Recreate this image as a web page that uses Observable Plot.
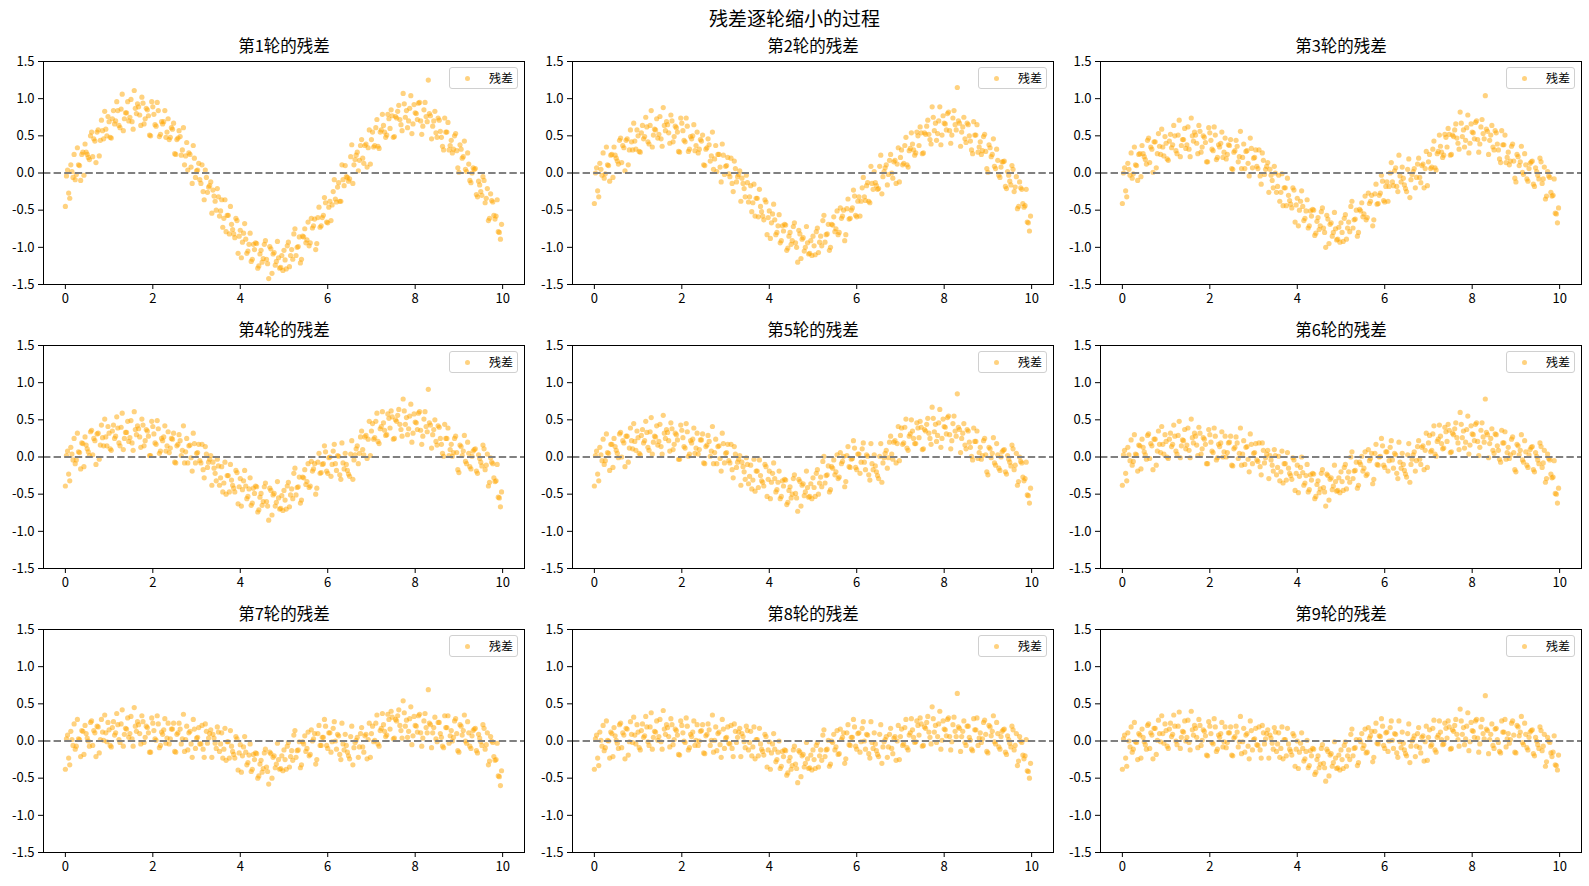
<!DOCTYPE html>
<html>
<head>
<meta charset="utf-8">
<script src="https://cdn.jsdelivr.net/npm/d3@7"></script>
<script src="https://cdn.jsdelivr.net/npm/@observablehq/plot@0.6"></script>
<style>
  html, body { margin: 0; padding: 0; background: #fff; }
  #root { position: relative; width: 1589px; height: 886px; overflow: hidden; font-family: "Noto Sans CJK SC", "Noto Sans", sans-serif; color: #000; }
  #suptitle { position: absolute; left: 0; top: 6px; width: 1589px; height: 23px; line-height: 23px; text-align: center; font-size: 19px; }
  .panel { position: absolute; }
  .legend { position: absolute; width: 69px; height: 22px; box-sizing: border-box; border: 1px solid #d0d0d0; border-radius: 3px; background: rgba(255,255,255,0.8); font-size: 12px; }
  .legend .dot { position: absolute; left: 14.5px; top: 7.8px; width: 5.2px; height: 5.2px; border-radius: 50%; background: rgba(255,165,0,0.5); }
  .legend .lab { position: absolute; left: 39px; top: 0; line-height: 20px; }
</style>
</head>
<body>
<div id="root"><div id="suptitle"></div></div>
<script>
const suptitle = "残差逐轮缩小的过程";
const panelTitles = ["第1轮的残差","第2轮的残差","第3轮的残差","第4轮的残差","第5轮的残差","第6轮的残差","第7轮的残差","第8轮的残差","第9轮的残差"];
const legendLabel = "残差";
const xTicks = [0, 2, 4, 6, 8, 10];
const yTicks = [-1.5, -1.0, -0.5, 0.0, 0.5, 1.0, 1.5];

// sample x positions (two interleaved sets)
const xsA = [0,0.05,0.1,0.15,0.2,0.25,0.3,0.35,0.4,0.45,0.5,0.55,0.6,0.65,0.7,0.75,0.8,0.85,0.9,0.95,
1,1.05,1.1,1.15,1.2,1.25,1.3,1.35,1.4,1.45,1.5,1.55,1.6,1.65,1.7,1.75,1.8,1.85,1.9,1.95,
2,2.05,2.1,2.15,2.2,2.25,2.3,2.35,2.4,2.45,2.5,2.55,2.6,2.65,2.7,2.75,2.8,2.85,2.9,2.95,
3,3.05,3.1,3.15,3.2,3.25,3.3,3.35,3.4,3.45,3.5,3.55,3.6,3.65,3.7,3.75,3.8,3.85,3.9,3.95,
4,4.05,4.1,4.15,4.2,4.25,4.3,4.35,4.4,4.45,4.5,4.55,4.6,4.65,4.7,4.75,4.8,4.85,4.9,4.95,
5,5.05,5.1,5.15,5.2,5.25,5.3,5.35,5.4,5.45,5.5,5.55,5.6,5.65,5.7,5.75,5.8,5.85,5.9,5.95,
6,6.05,6.1,6.15,6.2,6.25,6.3,6.35,6.4,6.45,6.5,6.55,6.6,6.65,6.7,6.75,6.8,6.85,6.9,6.95,
7,7.05,7.1,7.15,7.2,7.25,7.3,7.35,7.4,7.45,7.5,7.55,7.6,7.65,7.7,7.75,7.8,7.85,7.9,7.95,
8,8.05,8.1,8.15,8.2,8.25,8.3,8.35,8.4,8.45,8.5,8.55,8.6,8.65,8.7,8.75,8.8,8.85,8.9,8.95,
9,9.05,9.1,9.15,9.2,9.25,9.3,9.35,9.4,9.45,9.5,9.55,9.6,9.65,9.7,9.75,9.8,9.85,9.9,9.95];
const xsB = [0.025,0.075,0.125,0.175,0.225,0.275,0.325,0.375,0.425,0.475,0.525,0.575,0.625,0.675,0.725,0.775,0.825,0.875,0.925,0.975,
1.025,1.075,1.125,1.175,1.225,1.275,1.325,1.375,1.425,1.475,1.525,1.575,1.625,1.675,1.725,1.775,1.825,1.875,1.925,1.975,
2.025,2.075,2.125,2.175,2.225,2.275,2.325,2.375,2.425,2.475,2.525,2.575,2.625,2.675,2.725,2.775,2.825,2.875,2.925,2.975,
3.025,3.075,3.125,3.175,3.225,3.275,3.325,3.375,3.425,3.475,3.525,3.575,3.625,3.675,3.725,3.775,3.825,3.875,3.925,3.975,
4.025,4.075,4.125,4.175,4.225,4.275,4.325,4.375,4.425,4.475,4.525,4.575,4.625,4.675,4.725,4.775,4.825,4.875,4.925,4.975,
5.025,5.075,5.125,5.175,5.225,5.275,5.325,5.375,5.425,5.475,5.525,5.575,5.625,5.675,5.725,5.775,5.825,5.875,5.925,5.975,
6.025,6.075,6.125,6.175,6.225,6.275,6.325,6.375,6.425,6.475,6.525,6.575,6.625,6.675,6.725,6.775,6.825,6.875,6.925,6.975,
7.025,7.075,7.125,7.175,7.225,7.275,7.325,7.375,7.425,7.475,7.525,7.575,7.625,7.675,7.725,7.775,7.825,7.875,7.925,7.975,
8.025,8.075,8.125,8.175,8.225,8.275,8.325,8.375,8.425,8.475,8.525,8.575,8.625,8.675,8.725,8.775,8.825,8.875,8.925,8.975,
9.025,9.075,9.125,9.175,9.225,9.275,9.325,9.375,9.425,9.475,9.525,9.575,9.625,9.675,9.725,9.775,9.825,9.875,9.925,9.975];

const round1 = [-0.45,0.04,-0.34,0.02,0.25,-0.02,0.11,-0.10,0.28,0.39,0.25,0.18,0.55,0.46,0.14,0.58,0.44,0.57,0.83,0.50,
0.69,0.47,0.84,0.70,0.84,0.61,1.06,0.73,0.81,0.70,0.99,0.59,0.87,0.93,0.78,1.02,0.66,0.87,0.77,0.50,
0.89,0.65,0.95,0.49,0.69,0.69,0.48,0.73,0.48,0.59,0.26,0.45,0.57,0.24,0.61,0.23,0.04,0.25,-0.14,0.20,
0.03,0.13,-0.14,-0.25,0.04,-0.26,-0.17,-0.54,-0.31,-0.50,-0.32,-0.51,-0.73,-0.36,-0.57,-0.82,-0.69,-0.82,-0.61,-1.08,
-0.77,-0.93,-0.68,-1.08,-0.96,-1.19,-0.96,-0.94,-1.28,-1.09,-1.20,-0.96,-1.16,-1.42,-1.02,-1.09,-1.24,-0.92,-1.28,-1.11,
-1.04,-1.29,-0.93,-1.11,-1.16,-0.75,-1.00,-0.86,-1.16,-0.86,-0.94,-0.66,-0.94,-0.74,-0.62,-0.95,-0.46,-0.71,-0.57,-0.40,
-0.67,-0.38,-0.43,-0.09,-0.39,-0.13,-0.38,-0.09,0.10,-0.06,-0.08,0.38,0.11,0.24,0.03,0.37,0.20,0.37,0.08,0.58,
0.45,0.35,0.61,0.36,0.55,0.79,0.55,0.51,0.73,0.85,0.48,0.76,0.83,0.72,0.57,0.93,0.84,0.70,1.04,0.66,
0.81,0.72,0.95,0.52,0.85,0.76,1.25,0.77,0.63,0.83,0.48,0.71,0.48,0.31,0.55,0.68,0.37,0.27,0.50,0.30,
0.01,0.32,0.22,0.05,0.27,-0.10,0.00,0.05,-0.29,-0.11,-0.25,-0.05,-0.40,-0.21,-0.61,-0.37,-0.57,-0.58,-0.79,-0.89];
const round1b = [-0.04,-0.27,0.11,-0.06,-0.09,0.34,0.10,0.25,-0.03,0.28,0.21,0.50,0.22,0.43,0.55,0.23,0.71,0.46,0.59,0.76,
0.48,0.73,0.66,0.96,0.64,0.86,0.57,0.81,0.96,0.75,0.69,1.11,0.80,0.89,0.64,0.94,0.73,0.85,0.51,0.96,
0.79,0.63,0.84,0.52,0.66,0.84,0.55,0.45,0.61,0.67,0.25,0.47,0.49,0.31,0.11,0.41,0.27,0.08,0.37,-0.06,
0.04,-0.09,0.11,-0.36,-0.06,-0.19,-0.12,-0.23,-0.38,-0.21,-0.58,-0.36,-0.61,-0.79,-0.57,-0.45,-0.76,-0.87,-0.64,-0.85,
-1.14,-0.81,-0.89,-1.05,-0.81,-1.16,-1.03,-0.95,-1.25,-1.04,-1.15,-0.91,-1.22,-0.99,-1.35,-1.07,-1.19,-1.14,-1.27,-1.31,
-1.17,-0.98,-1.26,-1.03,-0.82,-1.11,-0.99,-1.21,-0.85,-0.75,-0.90,-0.98,-0.61,-0.71,-1.03,-0.60,-0.73,-0.60,-0.33,-0.66,
-0.46,-0.64,-0.25,-0.35,-0.19,-0.38,0.11,-0.17,-0.05,-0.11,0.22,-0.14,0.18,0.28,0.17,0.45,0.13,0.39,0.34,0.12,
0.55,0.37,0.72,0.33,0.58,0.64,0.48,0.79,0.60,0.77,0.49,0.74,0.91,0.65,1.07,0.75,0.61,0.87,0.53,0.92,
0.80,0.94,0.70,0.63,0.95,0.69,0.80,0.46,0.70,0.54,0.74,0.56,0.36,0.74,0.55,0.31,0.44,0.32,0.53,0.07,
0.38,0.20,0.43,0.02,0.12,-0.13,0.07,0.06,-0.32,-0.16,-0.30,-0.10,-0.34,-0.64,-0.28,-0.39,-0.62,-0.36,-0.80,-0.69];

const round2 = [-0.41,0.07,-0.32,0.05,0.27,-0.01,0.11,-0.11,0.25,0.35,0.20,0.12,0.47,0.37,0.03,0.46,0.31,0.42,0.67,0.32,
0.50,0.28,0.64,0.49,0.62,0.39,0.84,0.51,0.58,0.47,0.76,0.36,0.64,0.69,0.54,0.78,0.42,0.63,0.55,0.28,
0.67,0.44,0.74,0.29,0.49,0.50,0.30,0.55,0.32,0.43,0.11,0.32,0.46,0.16,0.55,0.19,0.02,0.25,-0.12,0.24,
0.09,0.21,-0.05,-0.14,0.16,-0.12,-0.02,-0.38,-0.14,-0.32,-0.13,-0.32,-0.52,-0.15,-0.34,-0.59,-0.45,-0.58,-0.36,-0.83,
-0.51,-0.67,-0.42,-0.83,-0.71,-0.94,-0.71,-0.69,-1.04,-0.85,-0.96,-0.72,-0.94,-1.20,-0.82,-0.89,-1.05,-0.72,-1.09,-0.91,
-0.85,-1.10,-0.74,-0.93,-0.98,-0.57,-0.83,-0.69,-1.00,-0.70,-0.79,-0.51,-0.80,-0.61,-0.50,-0.83,-0.35,-0.61,-0.47,-0.31,
-0.59,-0.32,-0.38,-0.06,-0.37,-0.13,-0.40,-0.14,0.02,-0.17,-0.21,0.24,-0.05,0.07,-0.16,0.17,0.00,0.15,-0.14,0.34,
0.21,0.11,0.37,0.11,0.30,0.54,0.31,0.27,0.50,0.62,0.26,0.54,0.63,0.52,0.39,0.75,0.67,0.53,0.89,0.51,
0.67,0.58,0.82,0.40,0.74,0.65,1.15,0.67,0.55,0.75,0.41,0.65,0.43,0.26,0.51,0.65,0.35,0.25,0.49,0.29,
0.01,0.34,0.25,0.09,0.32,-0.03,0.08,0.15,-0.18,0.02,-0.11,0.10,-0.25,-0.05,-0.45,-0.20,-0.41,-0.44,-0.66,-0.78];
const round2b = [0.00,-0.24,0.13,-0.03,-0.07,0.35,0.10,0.24,-0.06,0.24,0.16,0.44,0.14,0.34,0.44,0.11,0.58,0.31,0.43,0.58,
0.29,0.54,0.46,0.75,0.42,0.64,0.35,0.59,0.73,0.52,0.46,0.88,0.57,0.65,0.40,0.70,0.49,0.61,0.29,0.74,
0.57,0.42,0.63,0.32,0.46,0.65,0.37,0.27,0.45,0.51,0.10,0.34,0.38,0.23,0.05,0.37,0.25,0.08,0.39,-0.02,
0.10,-0.01,0.20,-0.25,0.06,-0.05,0.03,-0.07,-0.21,-0.03,-0.39,-0.17,-0.40,-0.58,-0.34,-0.22,-0.52,-0.63,-0.39,-0.60,
-0.88,-0.55,-0.63,-0.80,-0.56,-0.91,-0.78,-0.70,-1.01,-0.80,-0.91,-0.67,-1.00,-0.77,-1.15,-0.87,-1.00,-0.94,-1.08,-1.11,
-0.98,-0.79,-1.07,-0.85,-0.64,-0.93,-0.82,-1.04,-0.69,-0.59,-0.75,-0.83,-0.47,-0.58,-0.91,-0.48,-0.62,-0.50,-0.23,-0.57,
-0.38,-0.58,-0.20,-0.32,-0.17,-0.38,0.09,-0.22,-0.13,-0.22,0.09,-0.28,0.02,0.11,-0.02,0.25,-0.07,0.17,0.12,-0.12,
0.31,0.13,0.48,0.08,0.33,0.39,0.24,0.55,0.37,0.54,0.27,0.52,0.71,0.45,0.89,0.57,0.44,0.70,0.38,0.77,
0.66,0.80,0.57,0.51,0.84,0.58,0.70,0.36,0.62,0.46,0.67,0.50,0.31,0.69,0.51,0.28,0.42,0.30,0.52,0.06,
0.38,0.22,0.46,0.06,0.17,-0.06,0.15,0.16,-0.21,-0.03,-0.16,0.05,-0.19,-0.48,-0.12,-0.22,-0.46,-0.22,-0.67,-0.58];

const round3 = [-0.41,0.07,-0.32,0.05,0.27,-0.01,0.11,-0.10,0.26,0.37,0.22,0.12,0.47,0.35,0.01,0.42,0.26,0.36,0.59,0.23,
0.40,0.17,0.52,0.38,0.50,0.26,0.71,0.37,0.45,0.33,0.62,0.22,0.50,0.55,0.40,0.64,0.28,0.50,0.41,0.15,
0.54,0.32,0.62,0.18,0.38,0.40,0.21,0.47,0.25,0.37,0.06,0.28,0.44,0.15,0.56,0.21,0.06,0.30,-0.04,0.33,
0.20,0.31,0.06,-0.04,0.27,-0.02,0.09,-0.26,-0.03,-0.20,0.00,-0.18,-0.38,-0.01,-0.20,-0.44,-0.30,-0.42,-0.20,-0.66,
-0.34,-0.50,-0.24,-0.64,-0.51,-0.74,-0.51,-0.49,-0.84,-0.65,-0.76,-0.52,-0.74,-1.00,-0.62,-0.69,-0.85,-0.53,-0.90,-0.73,
-0.67,-0.92,-0.56,-0.74,-0.79,-0.38,-0.63,-0.50,-0.80,-0.51,-0.59,-0.31,-0.60,-0.41,-0.30,-0.63,-0.15,-0.41,-0.27,-0.11,
-0.39,-0.12,-0.18,0.14,-0.17,0.07,-0.25,-0.04,0.08,-0.16,-0.25,0.19,-0.09,0.02,-0.20,0.12,-0.06,0.10,-0.20,0.29,
0.15,0.06,0.32,0.07,0.26,0.51,0.28,0.24,0.48,0.60,0.24,0.51,0.58,0.47,0.32,0.67,0.58,0.44,0.78,0.40,
0.55,0.46,0.70,0.28,0.62,0.53,1.04,0.56,0.44,0.64,0.31,0.54,0.31,0.14,0.38,0.51,0.21,0.11,0.36,0.16,
-0.12,0.22,0.15,0.01,0.26,-0.08,0.06,0.15,-0.15,0.07,-0.03,0.20,-0.14,0.08,-0.31,-0.04,-0.26,-0.30,-0.54,-0.67];
const round3b = [0.00,-0.24,0.13,-0.03,-0.07,0.35,0.10,0.25,-0.05,0.26,0.18,0.44,0.14,0.32,0.42,0.07,0.53,0.25,0.35,0.49,
0.19,0.43,0.34,0.64,0.30,0.51,0.22,0.45,0.60,0.38,0.32,0.74,0.43,0.51,0.26,0.56,0.35,0.48,0.15,0.61,
0.44,0.30,0.51,0.21,0.35,0.55,0.28,0.19,0.38,0.45,0.05,0.30,0.36,0.22,0.06,0.39,0.29,0.13,0.47,0.07,
0.21,0.09,0.31,-0.15,0.17,0.05,0.14,0.05,-0.10,0.09,-0.26,-0.03,-0.26,-0.44,-0.20,-0.07,-0.37,-0.47,-0.23,-0.43,
-0.71,-0.38,-0.45,-0.61,-0.36,-0.71,-0.58,-0.50,-0.81,-0.60,-0.71,-0.47,-0.80,-0.57,-0.95,-0.67,-0.80,-0.75,-0.89,-0.93,
-0.80,-0.61,-0.89,-0.66,-0.45,-0.74,-0.62,-0.85,-0.49,-0.40,-0.55,-0.63,-0.27,-0.38,-0.71,-0.28,-0.42,-0.30,-0.03,-0.37,
-0.18,-0.38,0.00,-0.12,0.03,-0.18,0.24,-0.12,-0.07,-0.21,0.05,-0.33,-0.02,0.06,-0.06,0.20,-0.13,0.12,0.06,-0.17,
0.25,0.08,0.43,0.04,0.29,0.36,0.21,0.52,0.35,0.52,0.25,0.49,0.66,0.40,0.82,0.49,0.35,0.61,0.27,0.66,
0.54,0.68,0.45,0.39,0.72,0.46,0.59,0.25,0.51,0.35,0.57,0.39,0.19,0.57,0.38,0.14,0.28,0.16,0.39,-0.07,
0.25,0.10,0.36,-0.02,0.11,-0.11,0.13,0.16,-0.18,0.02,-0.08,0.15,-0.08,-0.35,0.02,-0.06,-0.31,-0.08,-0.55,-0.47];

const round4 = [-0.39,0.08,-0.32,0.04,0.25,-0.04,0.07,-0.16,0.18,0.27,0.11,0.02,0.36,0.25,-0.10,0.32,0.16,0.26,0.51,0.15,
0.32,0.09,0.43,0.28,0.39,0.15,0.59,0.25,0.33,0.21,0.49,0.09,0.37,0.42,0.27,0.51,0.15,0.37,0.28,0.02,
0.41,0.19,0.49,0.05,0.25,0.27,0.08,0.34,0.12,0.24,-0.07,0.15,0.30,0.02,0.42,0.07,-0.08,0.16,-0.19,0.18,
0.05,0.17,-0.08,-0.17,0.14,-0.14,-0.03,-0.38,-0.15,-0.32,-0.12,-0.28,-0.47,-0.07,-0.25,-0.47,-0.31,-0.42,-0.18,-0.63,
-0.29,-0.44,-0.18,-0.56,-0.43,-0.65,-0.42,-0.39,-0.74,-0.54,-0.65,-0.40,-0.60,-0.85,-0.45,-0.51,-0.66,-0.33,-0.70,-0.52,
-0.45,-0.70,-0.34,-0.51,-0.56,-0.15,-0.41,-0.27,-0.58,-0.28,-0.37,-0.09,-0.39,-0.19,-0.09,-0.42,0.05,-0.21,-0.09,0.07,
-0.22,0.00,-0.10,0.17,-0.18,0.01,-0.30,-0.08,0.05,-0.18,-0.26,0.22,-0.04,0.11,-0.09,0.27,0.10,0.27,-0.02,0.48,
0.35,0.24,0.48,0.21,0.38,0.61,0.36,0.30,0.52,0.62,0.24,0.50,0.56,0.44,0.28,0.62,0.53,0.38,0.71,0.32,
0.47,0.37,0.61,0.17,0.51,0.41,0.91,0.43,0.30,0.50,0.16,0.40,0.17,0.01,0.25,0.39,0.10,0.01,0.25,0.06,
-0.21,0.14,0.08,-0.06,0.20,-0.13,0.01,0.10,-0.19,0.03,-0.07,0.16,-0.17,0.04,-0.34,-0.07,-0.28,-0.32,-0.54,-0.67];
const round4b = [0.02,-0.23,0.13,-0.04,-0.09,0.32,0.06,0.19,-0.13,0.16,0.07,0.34,0.03,0.22,0.31,-0.03,0.43,0.15,0.27,0.41,
0.11,0.35,0.25,0.54,0.19,0.40,0.10,0.33,0.48,0.26,0.19,0.61,0.30,0.38,0.13,0.43,0.22,0.35,0.02,0.48,
0.31,0.17,0.38,0.08,0.22,0.42,0.15,0.06,0.25,0.32,-0.08,0.17,0.22,0.09,-0.08,0.25,0.15,-0.01,0.32,-0.08,
0.06,-0.05,0.17,-0.28,0.04,-0.07,0.02,-0.07,-0.22,-0.03,-0.38,-0.13,-0.35,-0.50,-0.25,-0.10,-0.38,-0.47,-0.21,-0.40,
-0.66,-0.32,-0.39,-0.53,-0.28,-0.62,-0.49,-0.40,-0.71,-0.49,-0.60,-0.35,-0.66,-0.42,-0.78,-0.49,-0.61,-0.55,-0.69,-0.72,
-0.58,-0.39,-0.67,-0.43,-0.22,-0.51,-0.40,-0.62,-0.27,-0.17,-0.33,-0.41,-0.06,-0.16,-0.50,-0.07,-0.22,-0.10,0.15,-0.19,
-0.01,-0.26,0.08,-0.09,0.02,-0.24,0.19,-0.16,-0.10,-0.23,0.04,-0.30,0.03,0.15,0.05,0.35,0.03,0.29,0.24,0.02,
0.45,0.26,0.59,0.18,0.41,0.46,0.29,0.58,0.39,0.54,0.25,0.48,0.64,0.37,0.78,0.44,0.30,0.55,0.20,0.58,
0.46,0.59,0.36,0.28,0.61,0.34,0.46,0.12,0.37,0.21,0.42,0.25,0.05,0.44,0.25,0.02,0.17,0.06,0.28,-0.17,
0.16,0.02,0.29,-0.09,0.05,-0.16,0.08,0.11,-0.22,-0.02,-0.12,0.11,-0.11,-0.39,-0.01,-0.09,-0.33,-0.10,-0.55,-0.47];

const round5 = [-0.39,0.08,-0.32,0.03,0.24,-0.05,0.06,-0.18,0.17,0.25,0.09,-0.01,0.33,0.22,-0.13,0.28,0.12,0.22,0.45,0.09,
0.26,0.03,0.37,0.22,0.33,0.09,0.53,0.20,0.27,0.16,0.44,0.04,0.32,0.37,0.22,0.46,0.10,0.32,0.23,-0.03,
0.36,0.14,0.45,0.01,0.22,0.24,0.05,0.32,0.10,0.23,-0.08,0.14,0.29,0.01,0.41,0.06,-0.09,0.15,-0.19,0.18,
0.05,0.17,-0.08,-0.17,0.14,-0.14,-0.03,-0.38,-0.13,-0.30,-0.10,-0.26,-0.43,-0.03,-0.19,-0.41,-0.25,-0.34,-0.10,-0.53,
-0.19,-0.34,-0.08,-0.47,-0.34,-0.56,-0.32,-0.30,-0.64,-0.45,-0.55,-0.29,-0.49,-0.73,-0.33,-0.38,-0.52,-0.19,-0.54,-0.36,
-0.28,-0.53,-0.17,-0.35,-0.40,0.01,-0.25,-0.12,-0.44,-0.15,-0.24,0.03,-0.27,-0.09,0.01,-0.33,0.14,-0.14,-0.02,0.12,
-0.17,0.04,-0.07,0.19,-0.17,0.01,-0.31,-0.09,0.03,-0.20,-0.29,0.18,-0.08,0.05,-0.15,0.20,0.04,0.20,-0.08,0.41,
0.29,0.17,0.40,0.12,0.28,0.50,0.25,0.18,0.39,0.48,0.10,0.37,0.44,0.32,0.17,0.52,0.44,0.29,0.64,0.25,
0.41,0.31,0.55,0.11,0.45,0.35,0.85,0.37,0.25,0.45,0.11,0.35,0.13,-0.04,0.21,0.35,0.06,-0.03,0.22,0.03,
-0.24,0.11,0.05,-0.08,0.18,-0.15,0.00,0.09,-0.20,0.02,-0.07,0.16,-0.17,0.05,-0.33,-0.06,-0.27,-0.29,-0.51,-0.62];
const round5b = [0.02,-0.23,0.13,-0.05,-0.10,0.31,0.05,0.17,-0.14,0.14,0.05,0.31,0.00,0.19,0.28,-0.07,0.39,0.11,0.21,0.35,
0.05,0.29,0.19,0.48,0.13,0.34,0.04,0.28,0.42,0.21,0.14,0.56,0.25,0.33,0.08,0.38,0.17,0.30,-0.03,0.43,
0.26,0.12,0.34,0.04,0.19,0.39,0.12,0.04,0.23,0.31,-0.09,0.16,0.21,0.08,-0.09,0.24,0.14,-0.02,0.32,-0.08,
0.06,-0.05,0.17,-0.28,0.04,-0.07,0.02,-0.07,-0.20,-0.01,-0.36,-0.11,-0.31,-0.46,-0.19,-0.04,-0.32,-0.39,-0.13,-0.30,
-0.56,-0.22,-0.29,-0.44,-0.19,-0.53,-0.39,-0.31,-0.61,-0.40,-0.50,-0.24,-0.55,-0.30,-0.66,-0.36,-0.47,-0.41,-0.53,-0.56,
-0.41,-0.22,-0.50,-0.27,-0.06,-0.35,-0.24,-0.47,-0.13,-0.04,-0.20,-0.29,0.06,-0.06,-0.40,0.02,-0.13,-0.03,0.22,-0.14,
0.04,-0.22,0.11,-0.07,0.03,-0.24,0.18,-0.17,-0.12,-0.25,0.01,-0.34,-0.01,0.09,-0.01,0.28,-0.03,0.22,0.18,-0.05,
0.39,0.19,0.51,0.09,0.31,0.35,0.18,0.46,0.26,0.40,0.11,0.35,0.52,0.25,0.67,0.34,0.21,0.46,0.13,0.51,
0.40,0.53,0.30,0.22,0.55,0.28,0.40,0.06,0.32,0.16,0.37,0.20,0.01,0.39,0.21,-0.02,0.13,0.02,0.25,-0.20,
0.13,-0.01,0.26,-0.11,0.03,-0.18,0.07,0.10,-0.23,-0.03,-0.12,0.11,-0.11,-0.38,0.00,-0.08,-0.32,-0.07,-0.52,-0.42];

const round6 = [-0.38,0.09,-0.32,0.03,0.23,-0.06,0.04,-0.19,0.15,0.24,0.07,-0.03,0.31,0.18,-0.17,0.24,0.08,0.17,0.41,0.04,
0.21,-0.02,0.32,0.17,0.28,0.04,0.48,0.15,0.22,0.11,0.39,-0.01,0.26,0.32,0.16,0.40,0.04,0.26,0.17,-0.09,
0.30,0.08,0.39,-0.04,0.17,0.19,0.00,0.28,0.06,0.20,-0.11,0.11,0.27,-0.02,0.39,0.04,-0.10,0.14,-0.20,0.17,
0.05,0.18,-0.06,-0.13,0.19,-0.08,0.04,-0.29,-0.04,-0.19,0.02,-0.14,-0.32,0.08,-0.09,-0.31,-0.15,-0.25,-0.01,-0.45,
-0.11,-0.26,0.00,-0.38,-0.25,-0.47,-0.24,-0.22,-0.56,-0.37,-0.48,-0.22,-0.41,-0.66,-0.25,-0.30,-0.44,-0.11,-0.46,-0.28,
-0.20,-0.45,-0.10,-0.28,-0.34,0.07,-0.19,-0.07,-0.38,-0.10,-0.19,0.07,-0.23,-0.05,0.05,-0.30,0.17,-0.11,0.01,0.15,
-0.14,0.07,-0.05,0.22,-0.15,0.03,-0.29,-0.07,0.05,-0.18,-0.27,0.18,-0.10,0.03,-0.19,0.14,-0.03,0.13,-0.17,0.32,
0.19,0.07,0.31,0.04,0.21,0.43,0.18,0.12,0.34,0.44,0.06,0.32,0.38,0.26,0.10,0.44,0.35,0.20,0.55,0.16,
0.31,0.22,0.46,0.02,0.36,0.27,0.78,0.30,0.18,0.38,0.05,0.30,0.09,-0.07,0.19,0.34,0.06,-0.02,0.24,0.06,
-0.20,0.15,0.09,-0.04,0.22,-0.11,0.03,0.13,-0.17,0.06,-0.04,0.19,-0.14,0.09,-0.29,-0.02,-0.23,-0.27,-0.49,-0.62];
const round6b = [0.03,-0.22,0.13,-0.05,-0.11,0.30,0.03,0.16,-0.16,0.13,0.03,0.29,-0.02,0.15,0.24,-0.11,0.35,0.06,0.17,0.30,
0.00,0.24,0.14,0.43,0.08,0.29,-0.01,0.23,0.37,0.16,0.09,0.51,0.19,0.28,0.02,0.32,0.11,0.24,-0.09,0.37,
0.20,0.06,0.28,-0.01,0.14,0.34,0.07,0.00,0.19,0.28,-0.12,0.13,0.19,0.05,-0.11,0.22,0.13,-0.03,0.31,-0.09,
0.06,-0.04,0.19,-0.24,0.09,-0.01,0.09,0.02,-0.11,0.10,-0.24,0.01,-0.20,-0.35,-0.09,0.06,-0.22,-0.30,-0.04,-0.22,
-0.48,-0.14,-0.21,-0.35,-0.10,-0.44,-0.31,-0.23,-0.53,-0.32,-0.43,-0.17,-0.47,-0.23,-0.58,-0.28,-0.39,-0.33,-0.45,-0.48,
-0.33,-0.14,-0.43,-0.20,0.00,-0.29,-0.18,-0.42,-0.07,0.01,-0.15,-0.25,0.10,-0.02,-0.36,0.05,-0.10,0.00,0.25,-0.11,
0.07,-0.19,0.13,-0.04,0.05,-0.22,0.20,-0.15,-0.10,-0.23,0.03,-0.34,-0.03,0.07,-0.05,0.22,-0.10,0.15,0.09,-0.14,
0.29,0.09,0.42,0.01,0.24,0.28,0.11,0.40,0.21,0.36,0.07,0.30,0.46,0.19,0.60,0.26,0.12,0.37,0.04,0.42,
0.30,0.44,0.21,0.13,0.46,0.20,0.33,-0.01,0.25,0.09,0.31,0.15,-0.03,0.36,0.19,-0.03,0.13,0.03,0.27,-0.17,
0.17,0.03,0.30,-0.07,0.07,-0.14,0.10,0.14,-0.20,0.01,-0.09,0.14,-0.08,-0.34,0.04,-0.04,-0.28,-0.05,-0.50,-0.42];

const round7 = [-0.38,0.08,-0.32,0.02,0.23,-0.07,0.03,-0.21,0.13,0.21,0.04,-0.07,0.27,0.14,-0.21,0.19,0.02,0.12,0.35,-0.01,
0.15,-0.08,0.26,0.11,0.22,-0.02,0.42,0.09,0.16,0.05,0.33,-0.07,0.20,0.26,0.10,0.34,-0.02,0.20,0.11,-0.15,
0.24,0.03,0.34,-0.09,0.12,0.15,-0.03,0.24,0.03,0.16,-0.14,0.09,0.24,-0.04,0.36,0.02,-0.12,0.13,-0.22,0.16,
0.04,0.18,-0.04,-0.11,0.23,-0.03,0.10,-0.22,0.04,-0.10,0.12,-0.04,-0.23,0.17,-0.01,-0.23,-0.07,-0.18,0.06,-0.39,
-0.05,-0.20,0.06,-0.32,-0.19,-0.41,-0.18,-0.16,-0.50,-0.31,-0.42,-0.16,-0.35,-0.58,-0.17,-0.22,-0.36,-0.03,-0.38,-0.20,
-0.12,-0.38,-0.02,-0.21,-0.26,0.14,-0.13,-0.01,-0.32,-0.04,-0.14,0.12,-0.18,0.00,0.10,-0.25,0.21,-0.06,0.05,0.20,
-0.10,0.11,-0.01,0.26,-0.11,0.07,-0.25,-0.04,0.09,-0.15,-0.24,0.20,-0.09,0.01,-0.22,0.10,-0.08,0.07,-0.24,0.24,
0.10,-0.01,0.24,-0.04,0.14,0.37,0.13,0.08,0.29,0.40,0.03,0.29,0.34,0.21,0.04,0.38,0.28,0.13,0.46,0.07,
0.21,0.12,0.36,-0.07,0.27,0.18,0.69,0.22,0.11,0.32,-0.01,0.25,0.05,-0.09,0.18,0.34,0.07,0.00,0.27,0.10,
-0.15,0.20,0.14,0.00,0.26,-0.07,0.07,0.16,-0.13,0.09,-0.01,0.22,-0.11,0.11,-0.27,0.00,-0.21,-0.25,-0.47,-0.60];
const round7b = [0.03,-0.23,0.13,-0.06,-0.11,0.29,0.02,0.14,-0.18,0.10,0.00,0.25,-0.06,0.11,0.20,-0.16,0.29,0.01,0.11,0.25,
-0.06,0.18,0.08,0.37,0.02,0.23,-0.07,0.17,0.31,0.10,0.03,0.45,0.13,0.22,-0.04,0.26,0.05,0.18,-0.15,0.31,
0.14,0.01,0.23,-0.06,0.09,0.30,0.04,-0.04,0.16,0.24,-0.15,0.11,0.16,0.03,-0.14,0.20,0.11,-0.04,0.29,-0.10,
0.05,-0.04,0.21,-0.22,0.13,0.04,0.15,0.09,-0.03,0.19,-0.14,0.11,-0.11,-0.26,-0.01,0.14,-0.14,-0.23,0.03,-0.16,
-0.42,-0.08,-0.15,-0.29,-0.04,-0.38,-0.25,-0.17,-0.47,-0.26,-0.37,-0.11,-0.41,-0.15,-0.50,-0.20,-0.31,-0.25,-0.37,-0.40,
-0.25,-0.07,-0.35,-0.13,0.08,-0.22,-0.12,-0.36,-0.01,0.07,-0.10,-0.20,0.15,0.03,-0.31,0.10,-0.06,0.05,0.29,-0.06,
0.11,-0.15,0.17,0.00,0.09,-0.18,0.24,-0.12,-0.06,-0.20,0.06,-0.32,-0.02,0.05,-0.08,0.18,-0.15,0.09,0.02,-0.22,
0.20,0.01,0.35,-0.07,0.17,0.22,0.06,0.36,0.16,0.32,0.04,0.27,0.42,0.14,0.54,0.20,0.05,0.30,-0.05,0.33,
0.20,0.34,0.11,0.04,0.37,0.11,0.24,-0.09,0.18,0.03,0.25,0.10,-0.07,0.34,0.18,-0.03,0.14,0.05,0.30,-0.13,
0.22,0.08,0.35,-0.03,0.11,-0.10,0.14,0.17,-0.16,0.04,-0.06,0.17,-0.05,-0.32,0.06,-0.02,-0.26,-0.03,-0.48,-0.40];

const round8 = [-0.38,0.08,-0.33,0.01,0.21,-0.09,0.01,-0.23,0.10,0.18,0.01,-0.10,0.24,0.11,-0.24,0.16,-0.01,0.09,0.32,-0.04,
0.12,-0.12,0.23,0.07,0.19,-0.06,0.38,0.05,0.12,0.01,0.29,-0.11,0.16,0.22,0.06,0.30,-0.05,0.16,0.08,-0.19,
0.21,0.00,0.31,-0.12,0.09,0.12,-0.06,0.22,0.00,0.14,-0.16,0.07,0.23,-0.06,0.35,0.01,-0.13,0.12,-0.22,0.16,
0.04,0.19,-0.04,-0.10,0.23,-0.02,0.12,-0.21,0.06,-0.09,0.14,-0.02,-0.20,0.19,0.02,-0.20,-0.04,-0.14,0.09,-0.35,
-0.01,-0.16,0.10,-0.28,-0.15,-0.37,-0.14,-0.12,-0.46,-0.27,-0.38,-0.12,-0.31,-0.56,-0.15,-0.20,-0.35,-0.02,-0.37,-0.19,
-0.12,-0.37,-0.02,-0.20,-0.26,0.15,-0.12,0.01,-0.31,-0.02,-0.12,0.14,-0.17,0.02,0.11,-0.24,0.22,-0.06,0.05,0.19,
-0.11,0.11,-0.01,0.26,-0.11,0.08,-0.23,-0.02,0.11,-0.13,-0.21,0.22,-0.08,0.02,-0.22,0.09,-0.10,0.04,-0.26,0.21,
0.06,-0.06,0.18,-0.09,0.08,0.30,0.05,-0.01,0.21,0.31,-0.07,0.19,0.25,0.12,-0.04,0.30,0.21,0.06,0.40,0.01,
0.16,0.07,0.31,-0.12,0.22,0.13,0.64,0.17,0.06,0.27,-0.06,0.20,0.01,-0.13,0.15,0.31,0.04,-0.02,0.25,0.09,
-0.16,0.19,0.13,-0.01,0.25,-0.08,0.06,0.15,-0.15,0.07,-0.03,0.20,-0.12,0.10,-0.27,0.00,-0.19,-0.20,-0.40,-0.50];
const round8b = [0.03,-0.23,0.12,-0.07,-0.13,0.27,0.00,0.12,-0.21,0.07,-0.03,0.22,-0.09,0.08,0.17,-0.19,0.26,-0.02,0.08,0.22,
-0.09,0.14,0.05,0.33,-0.01,0.19,-0.11,0.13,0.27,0.06,-0.01,0.41,0.09,0.18,-0.08,0.22,0.02,0.14,-0.18,0.27,
0.11,-0.02,0.20,-0.09,0.06,0.27,0.01,-0.06,0.13,0.22,-0.17,0.09,0.15,0.01,-0.15,0.19,0.10,-0.05,0.29,-0.10,
0.05,-0.03,0.21,-0.21,0.13,0.05,0.17,0.10,-0.01,0.20,-0.12,0.13,-0.08,-0.24,0.02,0.17,-0.11,-0.19,0.06,-0.12,
-0.38,-0.04,-0.11,-0.25,0.00,-0.34,-0.21,-0.13,-0.43,-0.22,-0.33,-0.07,-0.37,-0.13,-0.48,-0.18,-0.30,-0.24,-0.36,-0.39,
-0.25,-0.06,-0.35,-0.12,0.08,-0.21,-0.11,-0.34,0.00,0.09,-0.08,-0.18,0.16,0.05,-0.30,0.11,-0.05,0.05,0.29,-0.07,
0.10,-0.15,0.17,0.00,0.09,-0.17,0.26,-0.10,-0.04,-0.18,0.09,-0.30,-0.01,0.06,-0.08,0.17,-0.17,0.06,0.00,-0.25,
0.16,-0.04,0.29,-0.12,0.11,0.15,-0.02,0.27,0.08,0.23,-0.06,0.17,0.33,0.05,0.46,0.12,-0.02,0.23,-0.11,0.27,
0.15,0.29,0.06,-0.01,0.32,0.06,0.19,-0.14,0.13,-0.02,0.20,0.05,-0.11,0.30,0.15,-0.06,0.11,0.03,0.28,-0.14,
0.21,0.07,0.34,-0.04,0.10,-0.11,0.13,0.16,-0.18,0.02,-0.08,0.15,-0.06,-0.33,0.06,-0.02,-0.24,0.02,-0.41,-0.30];

const round9 = [-0.38,0.08,-0.34,0.00,0.19,-0.11,-0.01,-0.25,0.08,0.16,-0.01,-0.11,0.23,0.11,-0.24,0.17,0.01,0.10,0.34,-0.03,
0.14,-0.10,0.24,0.09,0.20,-0.05,0.39,0.05,0.12,0.00,0.28,-0.12,0.15,0.21,0.05,0.29,-0.06,0.15,0.07,-0.20,
0.20,-0.02,0.30,-0.14,0.08,0.10,-0.08,0.19,-0.02,0.11,-0.19,0.04,0.20,-0.08,0.33,-0.01,-0.15,0.10,-0.24,0.14,
0.02,0.17,-0.06,-0.12,0.21,-0.04,0.10,-0.23,0.04,-0.11,0.12,-0.04,-0.22,0.19,0.02,-0.20,-0.04,-0.14,0.10,-0.34,
0.00,-0.15,0.11,-0.27,-0.14,-0.36,-0.13,-0.10,-0.45,-0.25,-0.36,-0.10,-0.30,-0.54,-0.14,-0.19,-0.34,-0.01,-0.37,-0.19,
-0.12,-0.37,-0.01,-0.20,-0.25,0.16,-0.10,0.02,-0.29,-0.01,-0.10,0.16,-0.15,0.04,0.13,-0.22,0.24,-0.04,0.06,0.20,
-0.10,0.12,0.00,0.27,-0.10,0.09,-0.22,-0.01,0.12,-0.12,-0.20,0.23,-0.07,0.03,-0.21,0.10,-0.09,0.05,-0.27,0.20,
0.05,-0.07,0.17,-0.12,0.05,0.27,0.02,-0.04,0.17,0.27,-0.11,0.15,0.21,0.09,-0.07,0.27,0.18,0.03,0.38,-0.01,
0.14,0.05,0.29,-0.15,0.19,0.10,0.61,0.14,0.02,0.23,-0.10,0.17,-0.02,-0.16,0.12,0.29,0.03,-0.03,0.24,0.08,
-0.16,0.19,0.12,-0.02,0.24,-0.09,0.05,0.14,-0.17,0.05,-0.05,0.19,-0.13,0.09,-0.28,0.00,-0.16,-0.15,-0.32,-0.39];
const round9b = [0.03,-0.23,0.11,-0.08,-0.15,0.25,-0.02,0.10,-0.23,0.05,-0.05,0.21,-0.10,0.08,0.17,-0.18,0.28,-0.01,0.10,0.23,
-0.07,0.16,0.06,0.35,0.00,0.20,-0.10,0.13,0.27,0.05,-0.02,0.40,0.08,0.17,-0.09,0.21,0.01,0.13,-0.19,0.26,
0.10,-0.04,0.19,-0.11,0.05,0.25,-0.01,-0.09,0.11,0.19,-0.20,0.06,0.12,-0.01,-0.17,0.17,0.08,-0.07,0.27,-0.12,
0.03,-0.05,0.19,-0.23,0.11,0.03,0.15,0.08,-0.03,0.18,-0.14,0.11,-0.10,-0.24,0.02,0.17,-0.11,-0.19,0.07,-0.11,
-0.37,-0.03,-0.10,-0.24,0.01,-0.33,-0.20,-0.11,-0.42,-0.20,-0.31,-0.05,-0.36,-0.11,-0.47,-0.17,-0.29,-0.23,-0.36,-0.39,
-0.25,-0.06,-0.34,-0.12,0.09,-0.20,-0.09,-0.33,0.02,0.10,-0.06,-0.16,0.18,0.07,-0.28,0.13,-0.03,0.07,0.30,-0.06,
0.11,-0.14,0.18,0.01,0.10,-0.16,0.27,-0.09,-0.03,-0.17,0.10,-0.29,0.00,0.07,-0.07,0.18,-0.16,0.07,-0.01,-0.26,
0.15,-0.05,0.28,-0.15,0.08,0.12,-0.05,0.24,0.04,0.19,-0.10,0.13,0.29,0.02,0.43,0.09,-0.05,0.20,-0.13,0.25,
0.13,0.27,0.04,-0.04,0.29,0.03,0.16,-0.17,0.09,-0.06,0.16,0.02,-0.14,0.27,0.12,-0.08,0.10,0.02,0.27,-0.15,
0.21,0.07,0.33,-0.05,0.09,-0.12,0.12,0.15,-0.20,0.00,-0.10,0.14,-0.07,-0.34,0.05,-0.02,-0.21,0.07,-0.33,-0.19];

const rounds = [[round1, round1b], [round2, round2b], [round3, round3b], [round4, round4b], [round5, round5b],
                [round6, round6b], [round7, round7b], [round8, round8b], [round9, round9b]];

const root = document.getElementById("root");
document.getElementById("suptitle").textContent = suptitle;

const svgW = 529, svgH = 284, mL = 43, mR = 5, mT = 31, mB = 30;
const colLeft = [0, 529, 1057];
const rowTop = [30, 314, 598];
const font = '"Noto Sans CJK SC", "Noto Sans", sans-serif';

rounds.forEach(([ysA, ysB], k) => {
  const col = k % 3, row = Math.floor(k / 3);
  const data = xsA.map((x, i) => ({x, y: ysA[i]})).concat(xsB.map((x, i) => ({x, y: ysB[i]})));
  const chart = Plot.plot({
    width: svgW, height: svgH,
    marginLeft: mL, marginRight: mR, marginTop: mT, marginBottom: mB,
    style: {fontFamily: font, fontSize: "13px", color: "#000", background: "transparent", overflow: "visible"},
    x: {domain: [-0.5, 10.5], ticks: xTicks, tickSize: 5, tickPadding: 4, label: null, tickFormat: d => String(d)},
    y: {domain: [-1.5, 1.5], ticks: yTicks, tickSize: 5, tickPadding: 4, label: null, tickFormat: d => d.toFixed(1)},
    marks: [
      Plot.dot(data, {x: "x", y: "y", r: 2.6, fill: "#FFA500", fillOpacity: 0.5, stroke: null}),
      Plot.ruleY([0], {stroke: "#808080", strokeWidth: 2, strokeDasharray: "7.4,3.2"}),
      Plot.frame({stroke: "#000", strokeWidth: 1}),
      Plot.text([panelTitles[k]], {text: d => d, frameAnchor: "top", lineAnchor: "middle", dy: -15, fontSize: 16.5, fill: "#000"})
    ]
  });
  const wrap = document.createElement("div");
  wrap.className = "panel";
  wrap.style.left = colLeft[col] + "px";
  wrap.style.top = rowTop[row] + "px";
  wrap.appendChild(chart);
  root.appendChild(wrap);

  const lg = document.createElement("div");
  lg.className = "legend";
  lg.style.left = (colLeft[col] + svgW - mR - 6 - 69) + "px";
  lg.style.top = (rowTop[row] + mT + 6) + "px";
  lg.innerHTML = '<span class="dot"></span><span class="lab"></span>';
  lg.querySelector(".lab").textContent = legendLabel;
  root.appendChild(lg);
});
</script>
</body>
</html>
